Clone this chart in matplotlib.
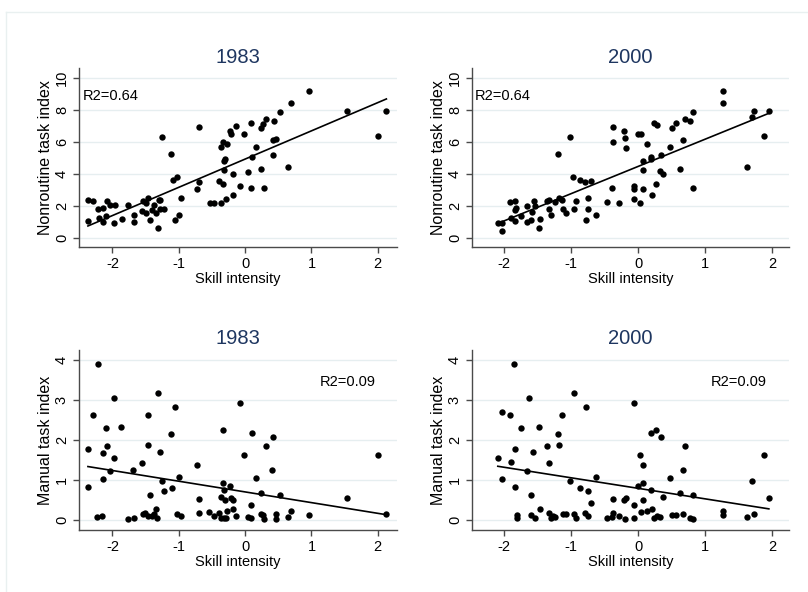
import numpy as np
import matplotlib
matplotlib.use("Agg")
import matplotlib.pyplot as plt
from matplotlib.lines import Line2D

plt.rcParams['font.family'] = ['Liberation Sans', 'DejaVu Sans']

# ---------------- data ----------------
years = ["1983", "2000"]

x83_nr = [-2.37,-2.37,-2.29,-2.22,-2.21,-2.15,-2.14,-2.08,-2.09,-2.03,
          -1.96,-1.97,-1.86,-1.76,-1.68,-1.68,-1.55,-1.54,-1.50,-1.46,
          -1.49,-1.44,-1.41,-1.38,-1.35,-1.32,-1.30,-1.28,-1.29,-1.25,
          -1.22,-1.12,-1.09,-1.03,-1.05,-0.99,-0.96,-0.73,-0.70,-0.69,
          -0.53,-0.47,-0.39,-0.37,-0.37,-0.33,-0.34,-0.32,-0.31,-0.32,
          -0.28,-0.29,-0.23,-0.22,-0.19,-0.18,-0.14,-0.07,-0.01,0.04,
          0.09,0.11,0.09,0.16,0.24,0.24,0.27,0.31,0.29,0.42,
          0.44,0.42,0.47,0.53,0.64,0.69,0.96,1.54,2.01,2.13]
y83_nr = [2.37,1.08,2.31,1.81,1.25,1.89,1.04,2.31,1.41,2.06,
          2.06,0.98,1.19,2.10,1.46,1.00,1.70,2.35,1.56,2.52,
          2.18,1.14,1.77,2.10,1.58,0.64,2.39,2.39,1.81,6.34,
          1.81,5.28,3.64,3.85,1.14,1.46,2.52,3.06,3.49,6.96,
          2.18,2.18,3.58,2.22,5.68,6.00,3.37,4.80,4.97,4.26,
          5.86,2.43,6.69,6.49,3.99,2.70,7.03,3.26,6.51,4.16,
          7.17,5.09,3.16,5.70,4.30,6.90,7.13,7.46,3.14,5.18,
          7.30,6.13,6.20,7.86,4.45,8.46,9.17,7.94,6.38,7.92]

x00_nr = [-2.09,-2.03,-2.03,-1.91,-1.89,-1.83,-1.84,-1.82,-1.83,-1.74,
          -1.65,-1.65,-1.59,-1.58,-1.55,-1.53,-1.47,-1.46,-1.36,-1.33,
          -1.32,-1.29,-1.24,-1.19,-1.18,-1.14,-1.12,-1.07,-1.02,-0.97,
          -0.95,-0.92,-0.86,-0.79,-0.78,-0.75,-0.74,-0.70,-0.62,-0.46,
          -0.39,-0.38,-0.38,-0.29,-0.21,-0.20,-0.18,-0.06,-0.06,-0.06,
          0.00,0.04,0.03,0.07,0.08,0.08,0.14,0.19,0.20,0.21,
          0.24,0.29,0.27,0.32,0.34,0.37,0.47,0.51,0.57,0.62,
          0.67,0.70,0.77,0.82,0.82,1.27,1.27,1.62,1.70,1.73,
          1.88,1.95]
y00_nr = [0.98,0.98,0.44,2.29,1.25,2.33,1.77,1.91,1.08,1.39,
          2.04,1.04,1.14,1.66,2.35,2.04,0.67,1.19,2.31,1.83,
          2.39,1.43,2.25,5.28,2.54,2.37,1.83,1.56,6.34,3.85,
          1.81,2.33,3.64,3.49,1.14,1.81,2.52,3.58,1.46,2.27,
          3.16,6.00,6.96,2.18,6.69,6.24,5.65,3.26,3.06,2.43,
          6.49,6.51,2.18,4.26,4.80,3.08,5.86,5.09,4.97,2.70,
          7.21,7.05,3.37,4.18,5.18,3.99,5.68,6.90,7.17,4.35,
          6.13,7.46,7.30,7.86,3.14,9.17,8.46,4.45,7.59,7.92,
          6.38,7.94]

x83_m = [-2.37,-2.37,-2.29,-2.22,-2.23,-2.16,-2.15,-2.15,-2.09,-2.08,
         -2.03,-1.97,-1.97,-1.87,-1.76,-1.68,-1.69,-1.55,-1.54,-1.51,
         -1.46,-1.46,-1.44,-1.46,-1.41,-1.38,-1.35,-1.33,-1.31,-1.29,
         -1.25,-1.22,-1.12,-1.10,-1.05,-1.03,-0.99,-0.96,-0.73,-0.70,
         -0.69,-0.54,-0.47,-0.39,-0.37,-0.37,-0.33,-0.34,-0.32,-0.31,
         -0.32,-0.28,-0.29,-0.23,-0.22,-0.19,-0.18,-0.14,-0.07,-0.01,
         0.04,0.09,0.11,0.09,0.16,0.24,0.24,0.27,0.31,0.29,
         0.42,0.41,0.46,0.47,0.53,0.64,0.69,0.96,1.54,2.01,
         2.13]
y83_m = [1.78,0.82,2.62,3.89,0.07,0.11,1.68,1.03,2.30,1.84,
         1.21,3.04,1.55,2.32,0.03,0.05,1.25,1.41,0.15,0.17,
         2.63,1.87,0.62,0.10,0.10,0.14,0.27,0.06,3.16,1.70,
         0.96,0.73,2.15,0.79,2.83,0.14,1.07,0.11,1.36,0.18,
         0.53,0.21,0.09,0.18,0.58,0.06,2.24,0.93,0.74,0.50,
         0.06,0.22,0.04,0.85,0.56,0.49,0.27,0.09,2.92,1.63,
         0.08,0.06,2.16,0.38,1.04,0.68,0.14,0.12,1.84,0.03,
         2.08,1.25,0.14,0.03,0.63,0.08,0.22,0.12,0.55,1.63,
         0.14]

x00_m = [-2.09,-2.03,-2.03,-1.91,-1.89,-1.85,-1.83,-1.83,-1.81,-1.81,
         -1.74,-1.63,-1.65,-1.59,-1.59,-1.56,-1.54,-1.47,-1.46,-1.35,
         -1.33,-1.32,-1.29,-1.27,-1.24,-1.19,-1.18,-1.13,-1.12,-1.07,
         -1.02,-0.96,-0.95,-0.92,-0.86,-0.79,-0.77,-0.75,-0.74,-0.70,
         -0.62,-0.46,-0.39,-0.38,-0.38,-0.29,-0.21,-0.18,-0.20,-0.06,
         -0.06,-0.06,0.00,0.03,0.04,0.07,0.08,0.08,0.14,0.19,
         0.20,0.21,0.24,0.27,0.29,0.32,0.34,0.37,0.47,0.51,
         0.57,0.62,0.67,0.67,0.70,0.77,0.82,0.82,1.27,1.27,
         1.62,1.70,1.73,1.88,1.95]
y00_m = [1.55,1.03,2.70,2.61,1.45,3.89,1.78,0.82,0.12,0.06,
         2.30,3.04,1.23,0.12,0.62,1.70,0.04,2.32,0.27,1.84,
         1.41,0.17,0.06,0.11,0.08,2.15,1.87,2.62,0.14,0.14,
         0.96,0.14,3.16,0.06,0.79,0.18,2.83,0.73,0.11,0.43,
         1.07,0.06,0.08,0.18,0.53,0.09,0.50,0.56,0.03,2.92,
         0.38,0.04,0.85,1.63,0.21,0.49,1.36,0.93,0.22,2.16,
         0.74,0.27,0.06,2.24,0.09,0.08,2.08,0.58,1.04,0.12,
         0.12,0.68,0.14,1.25,1.84,0.04,0.63,0.03,0.22,0.12,
         0.08,0.98,0.14,1.63,0.55]

# fitted lines: (intercept, slope)
fit_nr83 = (4.94, 1.76)
fit_nr00 = (4.48, 1.70)
fit_m83 = (0.70, -0.267)
fit_m00 = (0.79, -0.263)

r2_labels = ["R2=0.64", "R2=0.64", "R2=0.09", "R2=0.09"]
ylabels = ["Nonroutine task index", "Nonroutine task index",
           "Manual task index", "Manual task index"]
xlabel = "Skill intensity"
xticks = [-2, -1, 0, 1, 2]
yticks_nr = [0, 2, 4, 6, 8, 10]
yticks_m = [0, 1, 2, 3, 4]

# ---------------- figure ----------------
W, H = 808, 592
fig = plt.figure(figsize=(W / 100, H / 100), dpi=100)
fig.patch.set_facecolor("white")

# faint outer frame
fig.add_artist(Line2D([6 / W, 1], [1 - 12 / H, 1 - 12 / H], transform=fig.transFigure,
                      color="#e9f0f0", lw=1))
fig.add_artist(Line2D([6 / W, 6 / W], [0, 1 - 12 / H], transform=fig.transFigure,
                      color="#e9f0f0", lw=1))

def rect(l, t, r, b):
    return [l / W, 1 - b / H, (r - l) / W, (b - t) / H]

panels = [
    dict(rect=rect(79.3, 68.3, 397, 247.3), x=x83_nr, y=y83_nr, fit=fit_nr83,
         title=years[0], xlim=(-2.50, 2.29), ylim=(-0.56, 10.6), yticks=yticks_nr,
         r2=r2_labels[0], r2pos=(-2.45, 8.88), ylab=ylabels[0]),
    dict(rect=rect(472.3, 68.3, 789, 247.3), x=x00_nr, y=y00_nr, fit=fit_nr00,
         title=years[1], xlim=(-2.47, 2.25), ylim=(-0.56, 10.6), yticks=yticks_nr,
         r2=r2_labels[1], r2pos=(-2.43, 8.88), ylab=ylabels[1]),
    dict(rect=rect(79.3, 350, 397, 530), x=x83_m, y=y83_m, fit=fit_m83,
         title=years[0], xlim=(-2.50, 2.29), ylim=(-0.25, 4.24), yticks=yticks_m,
         r2=r2_labels[2], r2pos=(1.13, 3.44), ylab=ylabels[2]),
    dict(rect=rect(472.3, 350, 789, 530), x=x00_m, y=y00_m, fit=fit_m00,
         title=years[1], xlim=(-2.47, 2.25), ylim=(-0.25, 4.24), yticks=yticks_m,
         r2=r2_labels[3], r2pos=(1.09, 3.44), ylab=ylabels[3]),
]

grid_color = "#e6eef0"
axis_color = "#4a4a4a"

for p in panels:
    ax = fig.add_axes(p["rect"])
    ax.set_xlim(*p["xlim"])
    ax.set_ylim(*p["ylim"])
    for side in ("top", "right"):
        ax.spines[side].set_visible(False)
    for side in ("left", "bottom"):
        ax.spines[side].set_color(axis_color)
        ax.spines[side].set_linewidth(1.0)
    ax.set_xticks(xticks)
    ax.set_xticklabels([str(t) for t in xticks])
    ax.set_yticks(p["yticks"])
    ax.set_yticklabels([str(t) for t in p["yticks"]], rotation=90, va="center")
    ax.tick_params(axis="x", length=4, width=1, color=axis_color, labelsize=10.5, pad=3)
    ax.tick_params(axis="y", length=4.5, width=1, color=axis_color, labelsize=10.5, pad=3)
    for yt in p["yticks"]:
        ax.axhline(yt, color=grid_color, lw=1.0, zorder=0)
    x = np.array(p["x"])
    y = np.array(p["y"])
    ax.scatter(x, y, s=21, color="black", linewidths=0, zorder=3)
    b0, b1 = p["fit"]
    xs = np.array([x.min(), x.max()])
    ax.plot(xs, b0 + b1 * xs, color="black", lw=1.2, zorder=4)
    ax.text(p["r2pos"][0], p["r2pos"][1], p["r2"], ha="left", va="center",
            fontsize=10.5, color="black")
    ax.set_title(p["title"], fontsize=14.5, color="#1e3660", pad=4)
    ax.set_xlabel(xlabel, fontsize=10.5, labelpad=1)
    ax.set_ylabel(p["ylab"], fontsize=11.5, labelpad=1)

fig.savefig("out.png", dpi=100, facecolor="white")
